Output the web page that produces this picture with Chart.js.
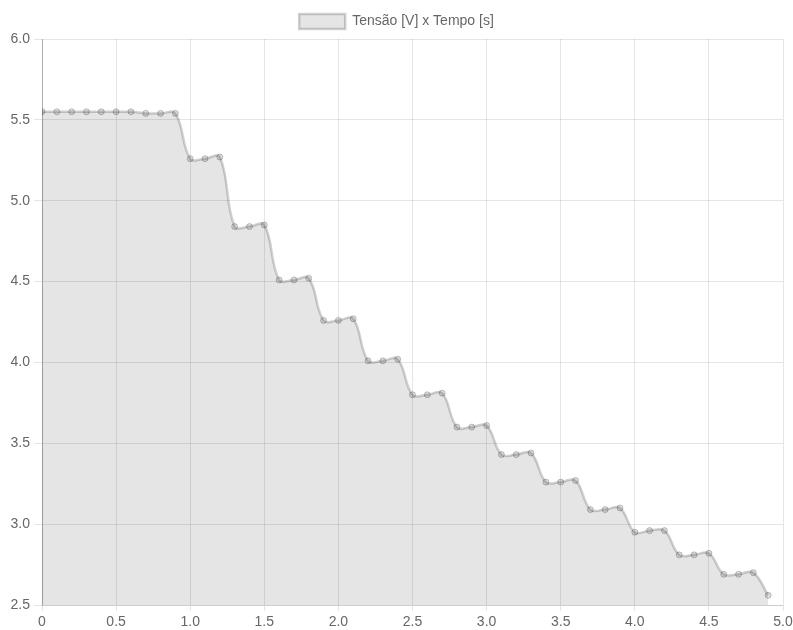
<!DOCTYPE html>
<html>
<head>
<meta charset="utf-8">
<script src="https://cdn.jsdelivr.net/npm/chart.js@4/dist/chart.umd.min.js"></script>
<style>
  html, body { margin: 0; padding: 0; background: #fff; }
  #wrap { width: 793px; height: 630px; }
</style>
</head>
<body>
<div id="wrap"><canvas id="tensaoChart"></canvas></div>
<script>
// Tempo [s]
var tempo = [0.0, 0.1, 0.2, 0.3, 0.4, 0.5, 0.6, 0.7, 0.8, 0.9,
             1.0, 1.1, 1.2, 1.3, 1.4, 1.5, 1.6, 1.7, 1.8, 1.9,
             2.0, 2.1, 2.2, 2.3, 2.4, 2.5, 2.6, 2.7, 2.8, 2.9,
             3.0, 3.1, 3.2, 3.3, 3.4, 3.5, 3.6, 3.7, 3.8, 3.9,
             4.0, 4.1, 4.2, 4.3, 4.4, 4.5, 4.6, 4.7, 4.8, 4.9];
// Tensao [V]
var tensao = [5.55, 5.55, 5.55, 5.55, 5.55, 5.55, 5.55, 5.54, 5.54, 5.54,
              5.26, 5.26, 5.27, 4.84, 4.84, 4.85, 4.51, 4.51, 4.52, 4.26,
              4.26, 4.27, 4.01, 4.01, 4.02, 3.80, 3.80, 3.81, 3.60, 3.60,
              3.61, 3.43, 3.43, 3.44, 3.26, 3.26, 3.27, 3.09, 3.09, 3.10,
              2.95, 2.96, 2.96, 2.81, 2.81, 2.82, 2.69, 2.69, 2.70, 2.56];
var xTicks = [0, 0.5, 1.0, 1.5, 2.0, 2.5, 3.0, 3.5, 4.0, 4.5, 5.0];
var yTicks = [2.5, 3.0, 3.5, 4.0, 4.5, 5.0, 5.5, 6.0];
var legendLabel = "Tensão [V] x Tempo [s]";

Chart.defaults.font.family = '"Liberation Sans", Arial, Helvetica, sans-serif';
Chart.defaults.font.size = 14;
Chart.defaults.color = "#666";

var points = tempo.map(function(t, i) { return { x: t, y: tensao[i] }; });

var ctx = document.getElementById("tensaoChart").getContext("2d");
var tensaoChart = new Chart(ctx, {
    type: "line",
    data: {
        datasets: [{
            label: legendLabel,
            data: points,
            fill: "start",
            tension: 0.4,
            backgroundColor: "rgba(0,0,0,0.1)",
            borderColor: "rgba(0,0,0,0.18)",
            borderWidth: 2.5,
            pointRadius: 3,
            pointBackgroundColor: "rgba(0,0,0,0.12)",
            pointBorderColor: "rgba(0,0,0,0.22)",
            pointBorderWidth: 1
        }]
    },
    options: {
        responsive: true,
        maintainAspectRatio: false,
        animation: false,
        layout: { padding: { left: 0, right: 0, top: 4, bottom: 0 } },
        scales: {
            x: {
                type: "linear",
                min: 0,
                max: 5,
                afterBuildTicks: function(scale) {
                    scale.ticks = xTicks.map(function(v) { return { value: v }; });
                },
                afterFit: function(scale) {
                    scale.height = 25;
                    scale.paddingRight = 10;
                },
                ticks: {
                    maxRotation: 0,
                    padding: 3,
                    callback: function(v) { return v === 0 ? "0" : v.toFixed(1); }
                },
                grid: { color: "rgba(0,0,0,0.1)", tickLength: 6 },
                border: { color: "rgba(0,0,0,0.1)" }
            },
            y: {
                min: 2.5,
                max: 6.0,
                afterBuildTicks: function(scale) {
                    scale.ticks = yTicks.map(function(v) { return { value: v }; });
                },
                afterFit: function(scale) { scale.width = 42; },
                ticks: {
                    padding: 4,
                    callback: function(v) { return v.toFixed(1); }
                },
                grid: { color: "rgba(0,0,0,0.1)", tickLength: 8 },
                border: { color: "rgba(0,0,0,0.25)" }
            }
        },
        plugins: {
            legend: {
                display: true,
                labels: { boxWidth: 46, boxHeight: 15, padding: 10 }
            },
            tooltip: { enabled: false }
        }
    }
});
</script>
</body>
</html>
